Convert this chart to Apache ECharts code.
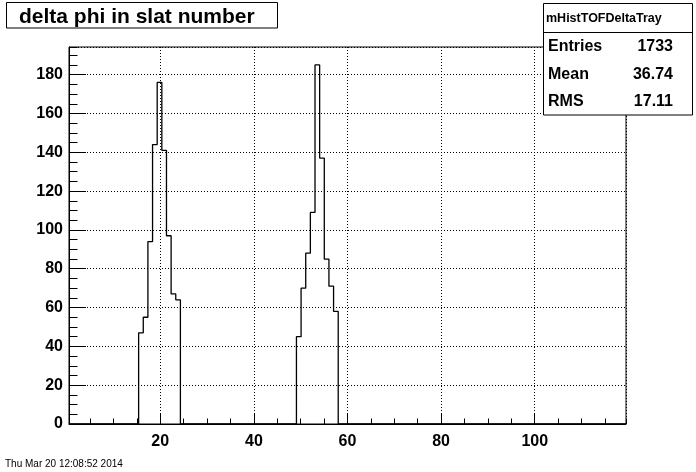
<!DOCTYPE html>
<html><head><meta charset="utf-8">
<script src="https://cdn.jsdelivr.net/npm/echarts@6/dist/echarts.min.js"></script>
<style>html,body{margin:0;padding:0;background:#fff}#c{width:696px;height:472px}</style>
</head><body><div id="c"></div>
<script>
// ---- data ----
const histName = 'mHistTOFDeltaTray';
const histTitle = 'delta phi in slat number';
const nBins = 120;
const xLow = 0.5;
const xHigh = 119.5;
const peakASlats = [16, 17, 18, 19, 20, 21, 22, 23, 24];
const peakACounts = [47, 55, 94, 144, 176, 141, 97, 67, 64];
const peakBSlats = [50, 51, 52, 53, 54, 55, 56, 57, 58];
const peakBCounts = [45, 70, 88, 109, 185, 137, 85, 71, 58];
const statLabels = ['Entries', 'Mean', 'RMS'];
const statValues = ['1733', '36.74', '17.11'];
const dateStamp = 'Thu Mar 20 12:08:52 2014';
const yMajorStep = 20;
const yMinorStep = 5;

// ---- histogram binning (ROOT-like) ----
const binWidth = (xHigh - xLow) / nBins;
const counts = new Array(nBins).fill(0);
function fillBins(slats, cnts) {
  slats.forEach((s, i) => { const b = Math.floor((s - xLow) / binWidth); counts[b] += cnts[i]; });
}
fillBins(peakASlats, peakACounts);
fillBins(peakBSlats, peakBCounts);
const stepPts = [[xLow, 0]];
for (let b = 0; b < nBins; b++) {
  const e0 = xLow + b * binWidth, e1 = xLow + (b + 1) * binWidth;
  stepPts.push([e0, counts[b]], [e1, counts[b]]);
}
stepPts.push([xHigh, 0]);
const yMax = 1.05 * Math.max(...counts);

const FONT = '"Liberation Sans", Arial, Helvetica, sans-serif';
const chart = echarts.init(document.getElementById('c'), null, {renderer: 'canvas'});
const blk = '#000';
const option = {
  animation: false,
  backgroundColor: '#fff',
  grid: {left: 69, top: 47, right: 70, bottom: 48, show: true, borderColor: blk, borderWidth: 1, backgroundColor: 'transparent'},
  xAxis: [
    {type: 'value', min: xLow, max: xHigh, splitNumber: 5, position: 'bottom',
     axisLine: {show: true, lineStyle: {color: blk, width: 1}},
     axisTick: {show: true, inside: true, length: 11, lineStyle: {color: blk, width: 1}},
     axisLabel: {show: true, showMinLabel: false, showMaxLabel: false, color: blk, fontFamily: FONT, fontWeight: 'bold', fontSize: 16, margin: 10},
     splitLine: {show: true, lineStyle: {color: blk, width: 1, type: [1, 2]}}},
    {type: 'value', min: xLow, max: xHigh, splitNumber: 24, position: 'bottom',
     axisLine: {show: false},
     axisTick: {show: true, inside: true, length: 5.5, lineStyle: {color: blk, width: 1}},
     axisLabel: {show: false}, splitLine: {show: false}}
  ],
  yAxis: [
    {type: 'value', min: 0, max: yMax, interval: yMajorStep, position: 'left',
     axisLine: {show: true, lineStyle: {color: blk, width: 1}},
     axisTick: {show: true, inside: true, length: 17, lineStyle: {color: blk, width: 1}},
     axisLabel: {show: true, showMaxLabel: false, color: blk, fontFamily: FONT, fontWeight: 'bold', fontSize: 16, margin: 6},
     splitLine: {show: true, lineStyle: {color: blk, width: 1, type: [1, 2]}}},
    {type: 'value', min: 0, max: yMax, interval: yMinorStep, position: 'left',
     axisLine: {show: false},
     axisTick: {show: true, inside: true, length: 8.5, lineStyle: {color: blk, width: 1}},
     axisLabel: {show: false}, splitLine: {show: false}}
  ],
  series: [{
    type: 'line', xAxisIndex: 0, yAxisIndex: 0, data: stepPts,
    showSymbol: false, symbol: 'none', clip: false, z: 5,
    lineStyle: {color: blk, width: 1.3}
  }],
  graphic: [
    {type: 'rect', z: 100, shape: {x: 6.5, y: 2.5, width: 271, height: 25.5}, style: {fill: '#fff', stroke: blk, lineWidth: 1}},
    {type: 'text', z: 101, x: 19, y: 17, style: {text: histTitle, font: 'bold 21px ' + FONT, fill: blk, verticalAlign: 'middle', align: 'left'}},
    {type: 'rect', z: 100, shape: {x: 543.5, y: 3.5, width: 149, height: 111.5}, style: {fill: '#fff', stroke: blk, lineWidth: 1}},
    {type: 'line', z: 101, shape: {x1: 543.5, y1: 32.5, x2: 692.5, y2: 32.5}, style: {stroke: blk, lineWidth: 1}},
    {type: 'text', z: 101, x: 546, y: 18.5, style: {text: histName, font: 'bold 12.5px ' + FONT, fill: blk, verticalAlign: 'middle', align: 'left'}},
    ...statLabels.map((t, i) => ({type: 'text', z: 101, x: 548, y: 47 + i * 27.5, style: {text: t, font: 'bold 16px ' + FONT, fill: blk, verticalAlign: 'middle', align: 'left'}})),
    ...statValues.map((t, i) => ({type: 'text', z: 101, x: 673, y: 47 + i * 27.5, style: {text: t, font: 'bold 16px ' + FONT, fill: blk, verticalAlign: 'middle', align: 'right'}})),
    {type: 'text', z: 101, x: 5, y: 464, style: {text: dateStamp, font: '10px ' + FONT, fill: blk, verticalAlign: 'middle', align: 'left'}}
  ]
};
chart.setOption(option);
</script>
</body></html>
